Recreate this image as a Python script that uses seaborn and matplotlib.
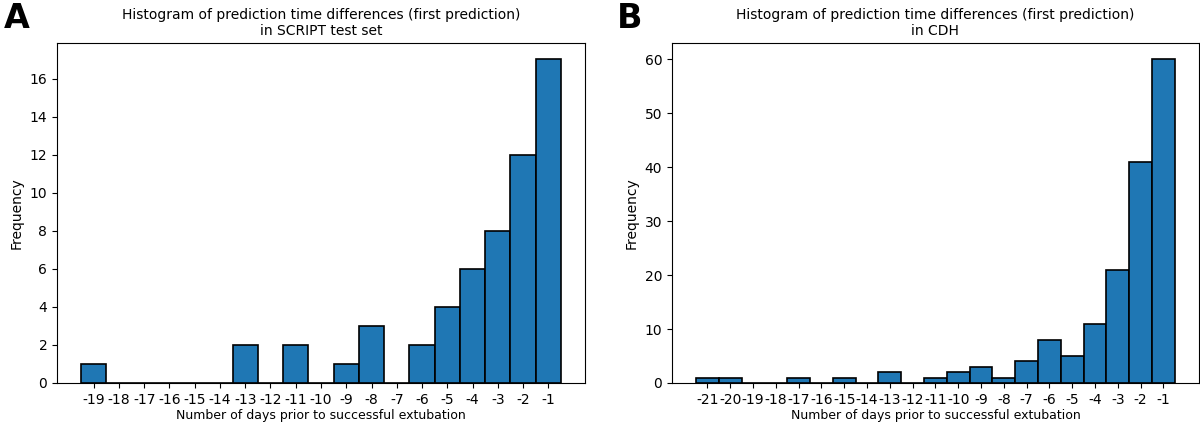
import numpy as np
import matplotlib
matplotlib.use("Agg")
import matplotlib.pyplot as plt
import seaborn as sns

# =========================
# DATA
# =========================
days_script = list(range(-19, 0))
counts_script = [1, 0, 0, 0, 0, 0, 2, 0, 2, 0, 1, 3, 0, 2, 4, 6, 8, 12, 17]

days_cdh = list(range(-21, 0))
counts_cdh = [1, 1, 0, 0, 1, 0, 1, 0, 2, 0, 1, 2, 3, 1, 4, 8, 5, 11, 21, 41, 60]

titles = [
    "Histogram of prediction time differences (first prediction)\nin SCRIPT test set",
    "Histogram of prediction time differences (first prediction)\nin CDH",
]

plt.rcParams['font.family'] = ['DejaVu Sans']

fig = plt.figure(figsize=(12, 4.23), dpi=100)
ax1 = fig.add_axes([0.0475, 0.0946, 0.44, 0.803])
ax2 = fig.add_axes([0.560, 0.0946, 0.439, 0.803])

for ax, days, counts, title in zip(
        [ax1, ax2], [days_script, days_cdh], [counts_script, counts_cdh], titles):
    sns.histplot(x=days, weights=counts, discrete=True, ax=ax,
                 color="#1f77b4", alpha=1, edgecolor="black", linewidth=1.2)
    ax.margins(x=0.05)
    ax.set_xticks(days)
    ax.set_xticklabels([str(d) for d in days])
    ax.set_xlabel("Number of days prior to successful extubation",
                  fontsize=9, labelpad=2)
    ax.set_ylabel("Frequency")
    ax.set_title(title, fontsize=10)

ax1.set_yticks(range(0, 17, 2))
ax2.set_yticks(range(0, 61, 10))

fig.text(0.003, 0.995, "A", fontsize=24, fontweight="bold", va="top", ha="left")
fig.text(0.514, 0.995, "B", fontsize=24, fontweight="bold", va="top", ha="left")

fig.savefig("out.png", dpi=100)
